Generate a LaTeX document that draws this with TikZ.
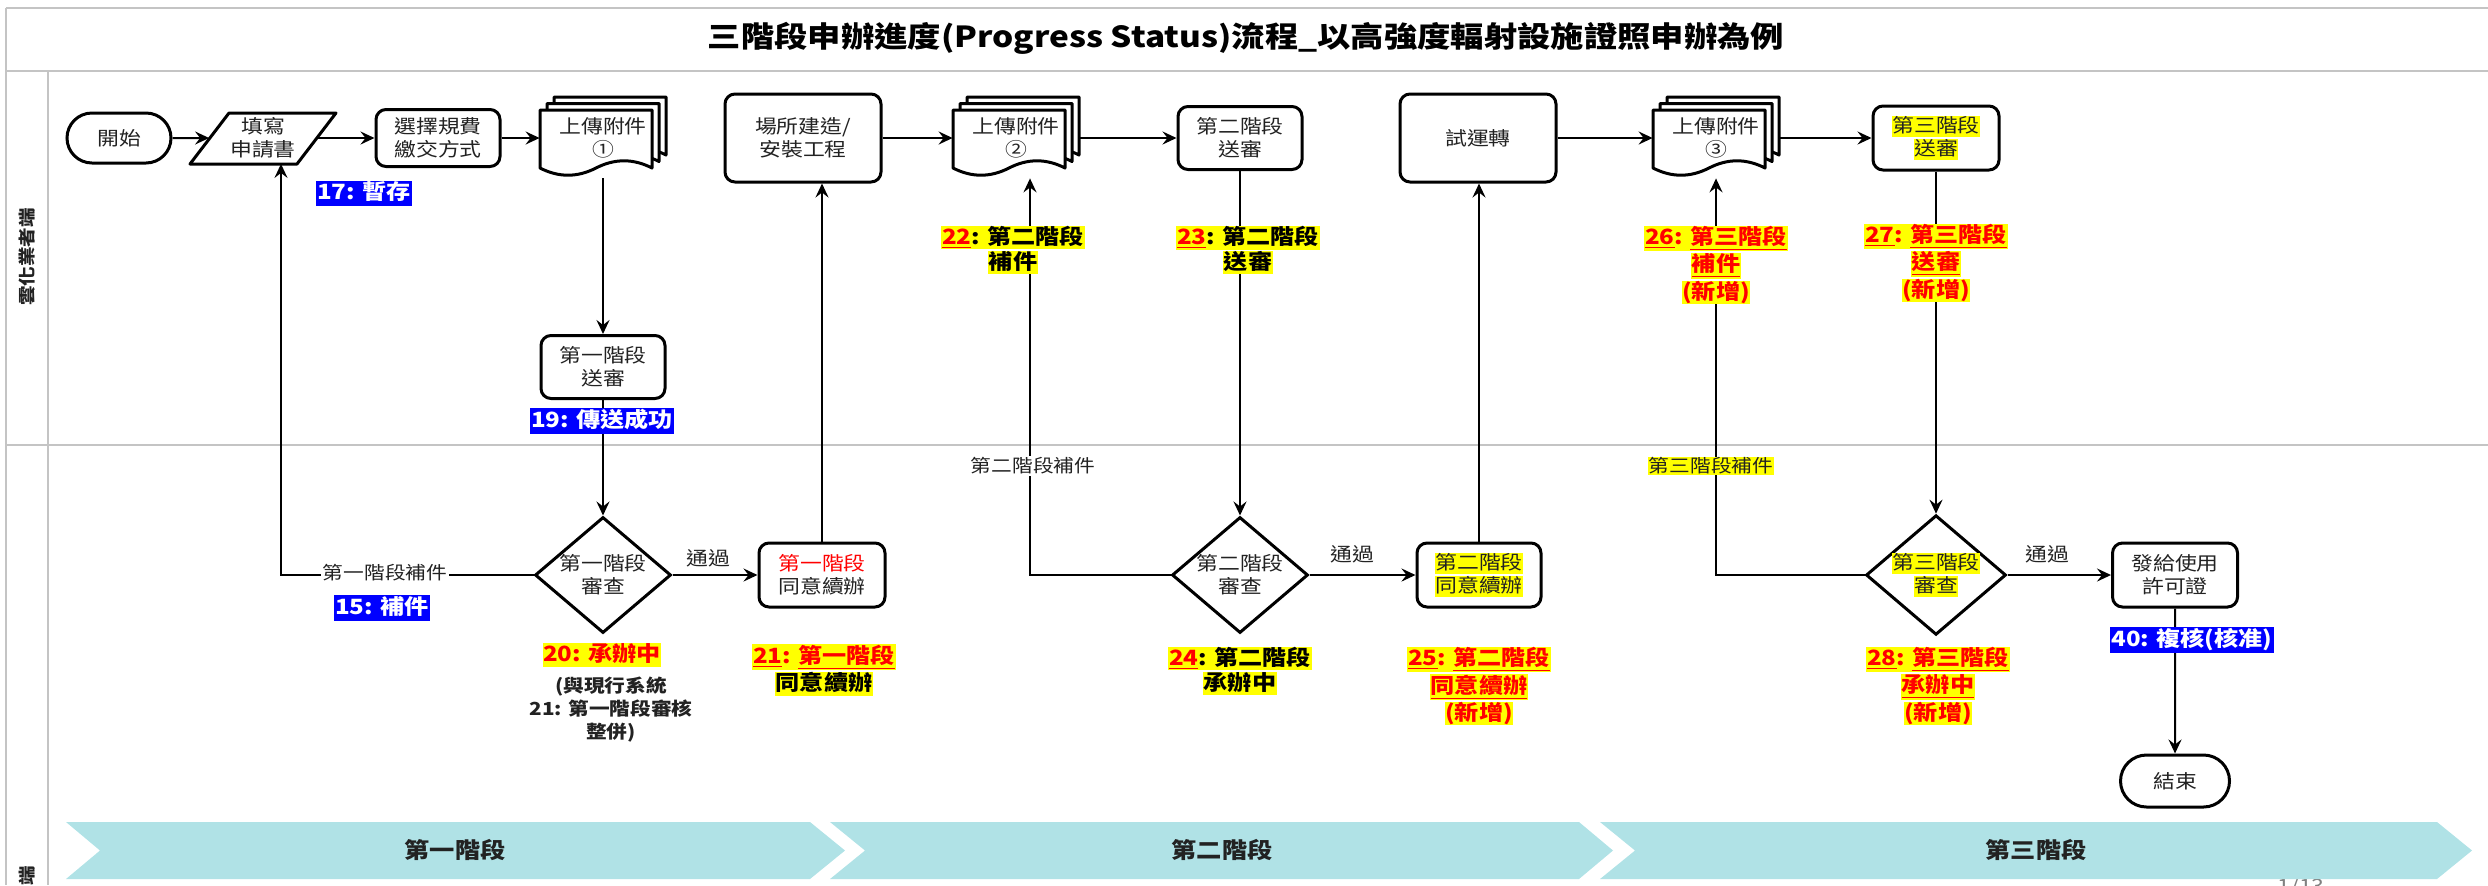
\documentclass[tikz,border=0pt]{standalone}
\usepackage{fontspec}
\setmainfont{Noto Sans CJK TC}[FakeStretch=1.15]
\usetikzlibrary{shapes.geometric,shapes.misc,arrows.meta}
\definecolor{frameg}{HTML}{C4C4C4}
\definecolor{chev}{HTML}{B0E2E6}
\definecolor{hlyel}{HTML}{FFFF00}
\definecolor{hlblue}{HTML}{0000FF}
\definecolor{rd}{HTML}{FF0000}
\definecolor{txt}{HTML}{222222}
\newcommand\myfs[2]{\fontsize{#1}{#2}\selectfont}
\newcommand\hly[1]{{\setlength\fboxsep{0.3pt}\colorbox{hlyel}{\rule[-0.19em]{0pt}{1.02em}#1}}}
\newcommand\hlb[1]{{\setlength\fboxsep{0.6pt}\colorbox{hlblue}{\rule[-0.22em]{0pt}{1.06em}\textcolor{white}{#1}}}}
\newcommand\rul[1]{\textcolor{rd}{\underline{#1}}}
\newcommand\onedoc[2]{\draw[docline] (#1,#2) -- ({#1+112},#2) -- ({#1+112},{#2+58})
  .. controls ({#1+93.3},{#2+48.4}) and ({#1+74.7},{#2+48.4}) .. ({#1+56},{#2+58})
  .. controls ({#1+37.3},{#2+67.6}) and ({#1+18.7},{#2+67.6}) .. (#1,{#2+58}) -- cycle;}
\newcommand\mdoc[3]{%
  \onedoc{#2+14}{97}\onedoc{#2+7}{103.5}\onedoc{#2}{110}%
  \node[nbase, minimum width=63pt, minimum height=40pt] (#1) at ({#2+63},138) {上傳附件\\#3};}
\tikzset{
  nbase/.style={font=\myfs{9.5}{11.5}, text=txt, align=center, inner sep=0pt},
  nbox/.style={nbase, draw=black, line width=1.5pt, rounded corners=5pt, fill=white},
  nterm/.style={nbase, draw=black, line width=1.5pt, rounded rectangle, fill=white},
  ndia/.style={nbase, draw=black, line width=1.5pt, diamond, aspect=1.17, fill=white, minimum width=68pt, minimum height=58pt},
  conn/.style={line width=1pt, draw=black, -{Stealth[length=7pt,width=6.5pt,inset=2.5pt]}},
  lab/.style={font=\bfseries\myfs{10.5}{12.5}, align=center, inner sep=0pt, fill=white},
  elab/.style={font=\myfs{9}{11}, text=txt, inner sep=1pt, fill=white},
  passlab/.style={font=\myfs{9.5}{11}, text=txt, inner sep=0pt},
  docline/.style={draw=black, line width=1.5pt, fill=white, line join=round},
  frameln/.style={draw=frameg, line width=1pt},
  chevlab/.style={font=\bfseries\myfs{11}{13}, text=txt, inner sep=0pt},
}
\begin{document}
\begin{tikzpicture}[x=0.5pt,y=-0.5pt]
\useasboundingbox (0,0) rectangle (2488,885);
\clip (0,0) rectangle (2488,885);
% frame
\draw[frameln] (6,8) -- (2488,8);
\draw[frameln] (6,8) -- (6,885);
\draw[frameln] (6,71) -- (2488,71);
\draw[frameln] (48,71) -- (48,885);
\draw[frameln] (6,445) -- (2488,445);
\node[font=\bfseries\myfs{14.5}{17}, text=black] (title) at (1246,38) {三階段申辦進度(Progress Status)流程\_以高強度輻射設施證照申辦為例};
\node[rotate=90, font=\bfseries\myfs{8.5}{10}, text=txt, inner sep=0pt] (lane1) at (27,257) {雲化業者端};
\node[rotate=90, anchor=east, font=\bfseries\myfs{8.5}{10}, text=txt, inner sep=0pt] (lane2) at (27,866) {端};
% page number (mostly hidden)
\node[text=gray, font=\myfs{10}{12}, inner sep=0pt] (pg) at (2301,887) {1/13};
% chevrons
\fill[chev] (66,822) -- (810,822) -- (845,850.5) -- (810,879) -- (66,879) -- (100,850.5) -- cycle;
\fill[chev] (830,822) -- (1579,822) -- (1613,850.5) -- (1579,879) -- (830,879) -- (865,850.5) -- cycle;
\fill[chev] (1600,822) -- (2437,822) -- (2472,850.5) -- (2437,879) -- (1600,879) -- (1635,850.5) -- cycle;
\node[chevlab] (ph1) at (455,850) {第一階段};
\node[chevlab] (ph2) at (1222,850) {第二階段};
\node[chevlab] (ph3) at (2036,850) {第三階段};
% row 1 nodes
\node[nterm, minimum width=52pt, minimum height=25pt] (start) at (119,138) {開始};
\draw[docline] (229,113) -- (336,113) -- (297,164) -- (190,164) -- cycle;
\node[nbase, minimum width=53.5pt, minimum height=25.5pt] (apply) at (263,138) {填寫\\申請書};
\node[nbox, minimum width=62pt, minimum height=28.5pt] (fee) at (438,138) {選擇規費\\繳交方式};
\mdoc{doc1}{540}{①}
\node[nbox, minimum width=62pt, minimum height=31.5pt] (sub1) at (603,367) {第一階段\\送審};
\node[nbox, minimum width=78pt, minimum height=44pt] (site) at (803,138) {場所建造/\\安裝工程};
\mdoc{doc2}{953}{②}
\node[nbox, minimum width=62pt, minimum height=31.5pt] (sub2) at (1240,138) {第二階段\\送審};
\node[nbox, minimum width=78pt, minimum height=44pt] (trial) at (1478,138) {試運轉};
\mdoc{doc3}{1653}{③}
\node[nbox, minimum width=63pt, minimum height=32pt] (sub3) at (1936,138) {\hly{第三階段}\\\hly{送審}};
% row 2 nodes
\node[ndia] (dia1) at (603,575) {第一階段\\審查};
\node[nbox, minimum width=63pt, minimum height=32pt] (agree1) at (822,575) {\textcolor{rd}{第一階段}\\同意續辦};
\node[ndia] (dia2) at (1240,575) {第二階段\\審查};
\node[nbox, minimum width=62pt, minimum height=32pt] (agree2) at (1479,575) {\hly{第二階段}\\\hly{同意續辦}};
\node[ndia] (dia3) at (1936,575) {\hly{第三階段}\\\hly{審查}};
\node[nbox, minimum width=62.5pt, minimum height=32pt] (permit) at (2175,575) {發給使用\\許可證};
\node[nterm, minimum width=54.5pt, minimum height=26pt] (end) at (2175,781) {結束};
\coordinate (r1) at (281,575);
\coordinate (r2) at (1030,575);
\coordinate (r3) at (1716,575);
% connectors
\draw[conn] (start) -- (apply);
\draw[conn] (apply) -- (fee);
\draw[conn] (fee) -- (doc1);
\draw[conn] (doc1) -- (sub1);
\draw[conn] (sub1) -- (dia1);
\draw[conn] (dia1) -- (agree1);
\draw[conn] (dia1.west) -- (r1) -- (r1 |- apply.south);
\draw[conn] (agree1.north) -- (agree1.north |- site.south);
\draw[conn] (site) -- (doc2);
\draw[conn] (doc2) -- (sub2);
\draw[conn] (sub2) -- (dia2);
\draw[conn] (dia2) -- (agree2);
\draw[conn] (dia2.west) -- (r2) -- (r2 |- doc2.south);
\draw[conn] (agree2.north) -- (agree2.north |- trial.south);
\draw[conn] (trial) -- (doc3);
\draw[conn] (doc3) -- (sub3);
\draw[conn] (sub3) -- (dia3);
\draw[conn] (dia3) -- (permit);
\draw[conn] (dia3.west) -- (r3) -- (r3 |- doc3.south);
\draw[conn] (permit) -- (end);
% edge labels
\node[elab] (l1) at (385,573) {第一階段補件};
\node[passlab] (p1) at (708,558) {通過};
\node[elab] (l2) at (1033,466) {第二階段補件};
\node[passlab] (p2) at (1352,554) {通過};
\node[elab, fill=hlyel, inner sep=0.5pt] (l3) at (1711,466) {第三階段補件};
\node[passlab] (p3) at (2047,554) {通過};
% status labels
\node[lab] (s17) at (364,193) {\hlb{17: 暫存}};
\node[lab] (s19) at (602,421) {\hlb{19: 傳送成功}};
\node[lab] (s15) at (382,608) {\hlb{15: 補件}};
\node[lab] (s40) at (2192,640) {\hlb{40: 複核(核准)}};
\node[lab] (s20) at (602,655) {\hly{\textcolor{rd}{20: 承辦中}}};
\node[lab, font=\bfseries\myfs{9}{11.5}, text=txt] (note) at (611,710) {(與現行系統\\21: 第一階段審核\\整併)};
\node[lab] (s21) at (824,670) {\hly{\rul{21}\textcolor{rd}{: }\rul{第一階段}}\\\hly{同意續辦}};
\node[lab] (s22) at (1013,250) {\hly{\rul{22}: 第二階段}\\\hly{補件}};
\node[lab] (s23) at (1248,250) {\hly{\rul{23}: 第二階段}\\\hly{送審}};
\node[lab] (s24) at (1240,671) {\hly{\rul{24}: 第二階段}\\\hly{承辦中}};
\node[lab] (s25) at (1479,686) {\hly{\rul{25}\textcolor{rd}{: }\rul{第二階段}}\\\hly{\rul{同意續辦}}\\\hly{\textcolor{rd}{(新增)}}};
\node[lab] (s26) at (1716,265) {\hly{\rul{26}\textcolor{rd}{: }\rul{第三階段}}\\\hly{\rul{補件}}\\\hly{\textcolor{rd}{(新增)}}};
\node[lab] (s27) at (1936,263) {\hly{\rul{27}\textcolor{rd}{: }\rul{第三階段}}\\\hly{\rul{送審}}\\\hly{\textcolor{rd}{(新增)}}};
\node[lab] (s28) at (1938,686) {\hly{\rul{28}\textcolor{rd}{: }\rul{第三階段}}\\\hly{\rul{承辦中}}\\\hly{\textcolor{rd}{(新增)}}};
\end{tikzpicture}
\end{document}
